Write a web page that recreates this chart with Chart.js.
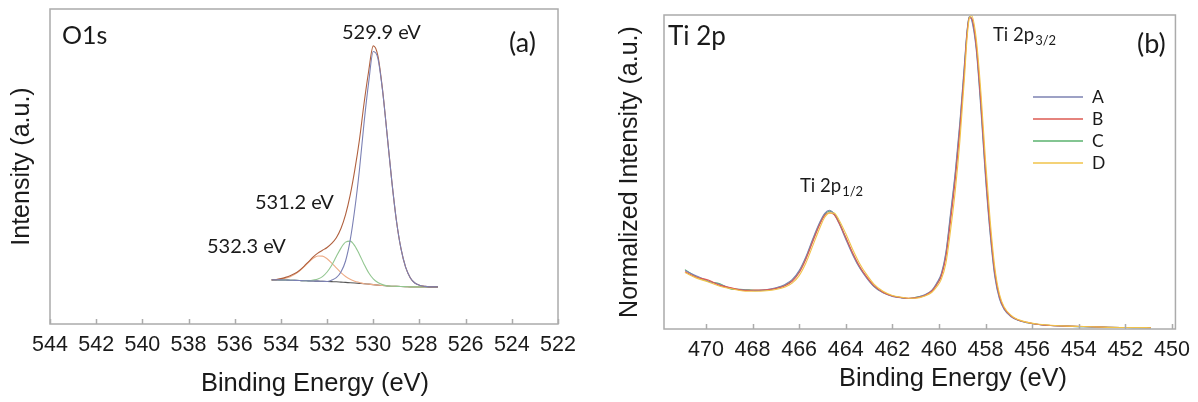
<!DOCTYPE html>
<html>
<head>
<meta charset="utf-8">
<script src="https://cdn.jsdelivr.net/npm/chart.js@4.4.0/dist/chart.umd.min.js"></script>
<style>
  html, body { margin: 0; padding: 0; background: #fff; }
  #wrap { position: relative; width: 1198px; height: 402px; }
  canvas { position: absolute; top: 0; }
  #o1s { left: 0; }
  #ti2p { left: 600px; }
</style>
</head>
<body>
<div id="wrap">
  <canvas id="o1s" width="600" height="402"></canvas>
  <canvas id="ti2p" width="598" height="402"></canvas>
</div>
<script>
// ---- (a) O1s : binding energy grid and fitted curves (intensity, arbitrary units) ----
const o1sEnergy = [534.4, 534.2, 534.0, 533.8, 533.6, 533.4, 533.2, 533.0, 532.8, 532.6,
  532.4, 532.2, 532.0, 531.8, 531.6, 531.4, 531.2, 531.0, 530.8, 530.6,
  530.4, 530.2, 530.0, 529.8, 529.6, 529.4, 529.2, 529.0, 528.8, 528.6,
  528.4, 528.2, 528.0, 527.8, 527.6, 527.4, 527.2];
const o1sEnvelope = [14.0, 14.1, 14.4, 14.8, 15.3, 16.0, 17.0, 18.3, 19.8, 21.3,
  22.5, 23.4, 24.3, 25.6, 27.4, 30.3, 34.7, 40.9, 48.9, 58.4,
  70.0, 80.25, 88.3, 85.15, 74.5, 60.1, 45.5, 32.95, 23.9, 18.05,
  14.7, 13.0, 12.3, 12.0, 11.8, 11.8, 11.8];
const o1sPeak5299 = [14.0, 14.0, 14.0, 13.95, 13.9, 13.85, 13.8, 13.75, 13.7, 13.65,
  13.6, 13.55, 13.5, 13.95, 14.7, 16.5, 20.0, 26.6, 36.5, 48.9,
  63.8, 76.65, 86.5, 84.35, 74.2, 60.1, 45.5, 32.95, 23.9, 18.05,
  14.7, 13.0, 12.3, 12.0, 11.8, 11.8, 11.8];
const o1sPeak5312 = [14.0, 14.0, 14.0, 13.95, 13.9, 13.85, 13.8, 13.75, 13.7, 13.95,
  14.3, 15.05, 16.5, 18.65, 21.4, 24.1, 26.0, 26.3, 24.8, 22.1,
  19.0, 16.25, 14.3, 13.15, 12.5, 12.1, 12.0, 11.95, 11.9, 11.85,
  11.8, 11.8, 11.8, 11.8, 11.8, 11.8, 11.8];
const o1sPeak5323 = [14.0, 14.0, 14.3, 14.55, 15.0, 15.75, 16.8, 18.15, 19.6, 20.85,
  21.6, 21.55, 20.7, 19.35, 17.8, 16.3, 15.1, 14.2, 13.6, 13.2,
  12.8, 12.65, 12.5, 12.35, 12.2, 12.1, 12.0, 11.95, 11.9, 11.85,
  11.8, 11.8, 11.8, 11.8, 11.8, 11.8, 11.8];
const o1sBackground = [14.0, 14.0, 14.0, 13.95, 13.9, 13.85, 13.8, 13.75, 13.7, 13.65,
  13.6, 13.55, 13.5, 13.45, 13.4, 13.3, 13.2, 13.1, 13.0, 12.9,
  12.8, 12.65, 12.5, 12.35, 12.2, 12.1, 12.0, 11.95, 11.9, 11.85,
  11.8, 11.8, 11.8, 11.8, 11.8, 11.8, 11.8];

// ---- (b) Ti 2p : normalized spectra of samples A-D ----
const tiEnergy = [470.9, 470.4, 469.9, 469.4, 468.9, 468.4, 467.9, 467.4, 467.0, 466.6,
  466.3, 466.0, 465.7, 465.4, 465.1, 464.9, 464.7, 464.5, 464.3, 464.0,
  463.7, 463.4, 463.1, 462.8, 462.4, 462.0, 461.6, 461.3, 461.0, 460.6,
  460.3, 460.1, 459.9, 459.7, 459.5, 459.3, 459.1, 458.9, 458.8, 458.7,
  458.6, 458.4, 458.2, 458.0, 457.8, 457.6, 457.4, 457.2, 456.9, 456.6,
  456.2, 455.8, 455.2, 454.5, 453.8, 453.0, 452.2, 451.5, 450.9];
const tiSampleA = [18.6, 16.9, 15.3, 14.2, 12.9, 12.5, 12.2, 12.6, 13.1, 14.2,
  15.7, 18.6, 23.2, 29.0, 34.2, 36.8, 37.8, 36.6, 33.8, 28.6,
  23.6, 19.4, 16.2, 13.6, 11.5, 10.4, 9.9, 9.7, 10.0, 10.9,
  12.4, 14.6, 17.6, 24.5, 37.0, 50.0, 66.0, 85.0, 94.5, 99.5,
  98.5, 89.0, 70.0, 48.0, 30.0, 16.5, 9.5, 6.2, 3.9, 2.8,
  2.0, 1.5, 1.1, 0.9, 0.7, 0.6, 0.5, 0.4, 0.4];
const tiSampleB = [18.2, 16.5, 15.6, 13.9, 13.1, 12.3, 12.4, 12.5, 12.9, 13.8,
  15.2, 17.9, 22.4, 28.1, 33.5, 36.2, 37.0, 36.4, 34.0, 29.2,
  24.2, 19.9, 16.6, 13.9, 11.7, 10.5, 10.0, 9.8, 9.9, 10.7,
  12.1, 14.0, 16.8, 23.0, 34.5, 47.5, 63.5, 83.0, 93.5, 99.2,
  99.0, 90.5, 72.5, 50.5, 32.0, 18.0, 10.3, 6.6, 4.1, 2.9,
  2.1, 1.5, 1.1, 0.9, 0.8, 0.6, 0.5, 0.5, 0.4];
const tiSampleC = [18.9, 16.6, 15.1, 14.4, 12.7, 12.6, 12.3, 12.4, 13.0, 14.0,
  15.5, 18.3, 22.9, 28.6, 33.9, 36.6, 37.5, 36.8, 34.2, 29.0,
  23.9, 19.6, 16.4, 13.7, 11.6, 10.5, 10.0, 9.7, 10.1, 10.8,
  12.2, 14.3, 17.2, 24.0, 36.2, 49.2, 65.0, 84.2, 94.0, 99.4,
  98.8, 89.8, 71.2, 49.2, 31.0, 17.2, 9.9, 6.4, 4.0, 2.8,
  2.0, 1.5, 1.1, 0.9, 0.7, 0.6, 0.5, 0.4, 0.4];
const tiSampleD = [18.0, 16.2, 15.0, 13.6, 12.8, 12.1, 12.0, 12.2, 12.6, 13.4,
  14.6, 17.0, 21.2, 26.8, 32.4, 35.6, 36.9, 36.9, 34.9, 30.4,
  25.3, 20.8, 17.3, 14.4, 12.0, 10.7, 10.1, 9.8, 9.8, 10.5,
  11.7, 13.4, 15.8, 21.0, 31.5, 44.0, 60.0, 80.5, 92.0, 98.8,
  99.8, 92.5, 75.5, 53.5, 34.5, 19.5, 11.0, 7.0, 4.3, 3.0,
  2.1, 1.6, 1.2, 0.9, 0.8, 0.6, 0.5, 0.5, 0.4];
const tiLabels = ['A', 'B', 'C', 'D'];
const tiColors = ['#7d82b2', '#dd5a52', '#5ab26e', '#f1c34a'];

Chart.defaults.font.family = "'Liberation Sans', Arial, sans-serif";
Chart.defaults.color = '#1a1a1a';

const pts = (xs, ys) => xs.map((x, i) => ({x: x, y: ys[i]}));

// grey box round the plot area + small inward ticks on the energy axis
const frame = {
  id: 'frame',
  afterDatasetsDraw(chart) {
    const {ctx, chartArea: a} = chart;
    const x = chart.scales.x;
    ctx.save();
    ctx.strokeStyle = '#ababab';
    ctx.lineWidth = 1.5;
    ctx.strokeRect(a.left, a.top, a.right - a.left, a.bottom - a.top);
    ctx.beginPath();
    x.ticks.forEach(t => {
      const px = Math.round(x.getPixelForValue(t.value)) + 0.5;
      ctx.moveTo(px, a.bottom);
      ctx.lineTo(px, a.bottom - 5);
    });
    ctx.stroke();
    ctx.restore();
  }
};

// free text on the plot (peak names, panel letters, x title)
const notes = {
  id: 'notes',
  afterDraw(chart, args, opts) {
    const ctx = chart.ctx;
    ctx.save();
    ctx.fillStyle = '#1a1a1a';
    ctx.textBaseline = 'middle';
    (opts.items || []).forEach(n => {
      const fam = n.family || 'Lato, sans-serif';
      ctx.font = n.size + 'px ' + fam;
      ctx.textAlign = n.align || 'left';
      ctx.fillText(n.text, n.x, n.y);
      if (n.sub) {
        const w = ctx.measureText(n.text).width;
        ctx.font = Math.round(n.size * 0.7) + 'px ' + fam;
        ctx.textAlign = 'left';
        ctx.fillText(n.sub, n.x + w + 1, n.y + n.size * 0.3);
      }
    });
    ctx.restore();
  }
};

// line-sample legend inside panel (b)
const lineLegend = {
  id: 'lineLegend',
  afterDraw(chart, args, o) {
    if (!o.show) return;
    const ctx = chart.ctx;
    ctx.save();
    ctx.font = o.size + 'px Lato, sans-serif';
    ctx.textBaseline = 'middle';
    ctx.textAlign = 'left';
    chart.data.datasets.forEach((ds, i) => {
      const y = o.y + i * o.gap;
      ctx.strokeStyle = ds.borderColor;
      ctx.lineWidth = 1.5;
      ctx.beginPath();
      ctx.moveTo(o.x, y);
      ctx.lineTo(o.x + o.len, y);
      ctx.stroke();
      ctx.fillStyle = '#1a1a1a';
      ctx.fillText(ds.label, o.x + o.len + 9, y);
    });
    ctx.restore();
  }
};

function lineSet(label, xs, ys, color, order) {
  return {
    label: label,
    data: pts(xs, ys),
    borderColor: color,
    backgroundColor: color,
    borderWidth: 1.1,
    pointRadius: 0,
    fill: false,
    cubicInterpolationMode: 'monotone',
    clip: false,
    order: order
  };
}

function baseOptions(xmin, xmax, yTitle, yPad, yWidth, xHeight, pad) {
  return {
    responsive: false,
    animation: false,
    devicePixelRatio: 1,
    layout: { padding: pad },
    plugins: { legend: { display: false }, tooltip: { enabled: false } },
    scales: {
      x: {
        type: 'linear', reverse: true, min: xmin, max: xmax,
        ticks: { stepSize: 2, autoSkip: false, maxRotation: 0, includeBounds: false,
                 font: { size: 21.5 }, color: '#1a1a1a', padding: 8 },
        grid: { display: false, drawTicks: false },
        border: { display: false },
        afterFit: s => { s.height = xHeight; }
      },
      y: {
        min: 0, max: 100,
        ticks: { display: false },
        grid: { display: false, drawTicks: false },
        border: { display: false },
        title: { display: true, text: yTitle, font: { size: 25 }, color: '#1a1a1a',
                 padding: { top: yPad, bottom: 0 } },
        afterFit: s => { s.width = yWidth; }
      }
    }
  };
}

// panel (a)
const optA = baseOptions(522, 544, 'Intensity (a.u.)', 7, 50, 78,
  { left: 0, right: 42, top: 9, bottom: 0 });
optA.plugins.notes = { items: [
  { text: 'O1s', x: 62, y: 36, size: 25 },
  { text: '529.9 eV', x: 342, y: 33, size: 20 },
  { text: '531.2 eV', x: 255, y: 203, size: 20 },
  { text: '532.3 eV', x: 207, y: 247, size: 20 },
  { text: '(a)', x: 509, y: 43, size: 27 },
  { text: 'Binding Energy (eV)', x: 315, y: 384, size: 25.5, align: 'center',
    family: "'Liberation Sans', Arial, sans-serif" }
] };
optA.plugins.lineLegend = { show: false };

new Chart(document.getElementById('o1s'), {
  type: 'line',
  data: { datasets: [
    lineSet('529.9 eV', o1sEnergy, o1sPeak5299, '#7b80b4', 0),
    lineSet('Envelope', o1sEnergy, o1sEnvelope, '#b0603e', 1),
    lineSet('531.2 eV', o1sEnergy, o1sPeak5312, '#92c690', 2),
    lineSet('532.3 eV', o1sEnergy, o1sPeak5323, '#eeac86', 3),
    lineSet('Background', o1sEnergy, o1sBackground, '#555555', 4)
  ] },
  options: optA,
  plugins: [frame, notes, lineLegend]
});

// panel (b)
const optB = baseOptions(449.85, 471.8, 'Normalized Intensity (a.u.)', 15, 64, 73,
  { left: 0, right: 17, top: 15, bottom: 0 });
optB.plugins.notes = { items: [
  { text: 'Ti 2p', x: 68, y: 37, size: 26 },
  { text: 'Ti 2p', sub: '3/2', x: 393, y: 35, size: 18.5 },
  { text: 'Ti 2p', sub: '1/2', x: 200, y: 186, size: 18.5 },
  { text: '(b)', x: 537, y: 44, size: 27 },
  { text: 'Binding Energy (eV)', x: 353, y: 379, size: 25.5, align: 'center',
    family: "'Liberation Sans', Arial, sans-serif" }
] };
optB.plugins.lineLegend = { show: true, x: 433, y: 97, gap: 22, len: 50, size: 17.5 };

const tiSeries = [tiSampleA, tiSampleB, tiSampleC, tiSampleD];
const tiOrder = [2, 1, 3, 0];
new Chart(document.getElementById('ti2p'), {
  type: 'line',
  data: { datasets: tiSeries.map((s, i) => lineSet(tiLabels[i], tiEnergy, s, tiColors[i], tiOrder[i])) },
  options: optB,
  plugins: [frame, notes, lineLegend]
});
</script>
</body>
</html>
